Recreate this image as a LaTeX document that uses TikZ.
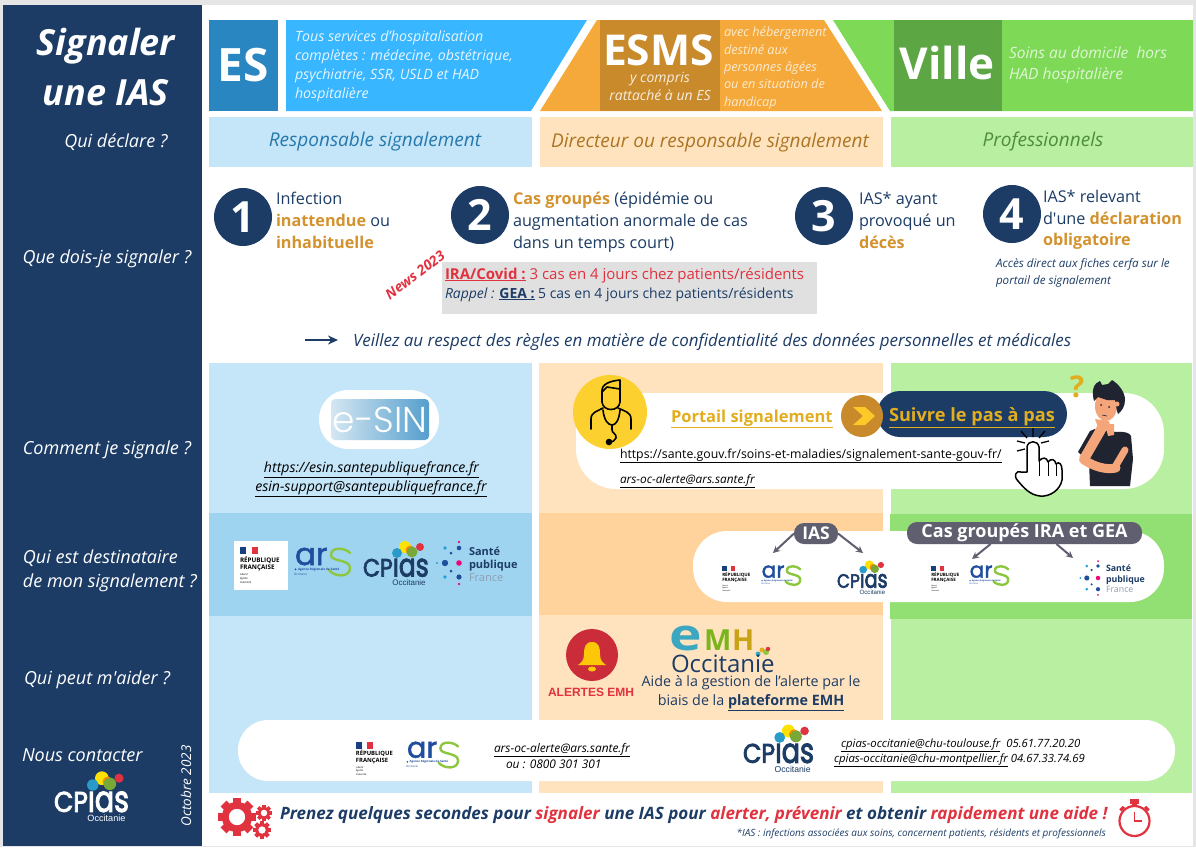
\documentclass[tikz,border=0pt]{standalone}
\usepackage{fontspec}
\setmainfont{Open Sans}
\newfontfamily\pop{Poppins}
\newfontfamily\popb[FakeBold=1.6]{Poppins}
\newfontfamily\popc[FakeBold=3]{Poppins}
\newfontfamily\popl{Poppins Light}
\newfontfamily\lib{Liberation Sans}
\usetikzlibrary{arrows.meta}
\definecolor{navy}{HTML}{1C3C66}
\definecolor{skyS}{HTML}{38B6FF}
\definecolor{skyD}{HTML}{2A86C0}
\definecolor{orS}{HTML}{F5A93B}
\definecolor{orD}{HTML}{C98A2B}
\definecolor{grS}{HTML}{7ED957}
\definecolor{grD}{HTML}{5CA644}
\definecolor{skyL}{HTML}{C5E5F8}
\definecolor{skyM}{HTML}{9FD4F0}
\definecolor{orL}{HTML}{FFE3BF}
\definecolor{orM}{HTML}{FFD39B}
\definecolor{grL}{HTML}{B8EFA0}
\definecolor{grM}{HTML}{92DF74}
\definecolor{amber}{HTML}{D3922E}
\definecolor{redA}{HTML}{E0323F}
\definecolor{gold}{HTML}{E2AE1F}
\definecolor{sun}{HTML}{FCD12F}
\definecolor{tagc}{HTML}{5F5F70}
\definecolor{arsb}{HTML}{1F4E9E}
\definecolor{arsg}{HTML}{8DC63F}
\definecolor{skin}{HTML}{F4A67A}
\definecolor{dark}{HTML}{1F2430}
\definecolor{emhe}{HTML}{3BA7C0}
\definecolor{emhm}{HTML}{7AB51D}
\definecolor{emhh}{HTML}{C8A415}
\newcommand{\fs}[1]{\fontsize{#1}{#1}\selectfont}
\newcommand{\apo}{{\addfontfeature{Ligatures=TeXOff}\char39 }}
\tikzset{
  tl/.style={inner sep=0pt,outer sep=0pt,anchor=base west},
  tc/.style={inner sep=0pt,outer sep=0pt,anchor=base},
  tr/.style={inner sep=0pt,outer sep=0pt,anchor=base east},
  numdisc/.style={circle,fill=navy,text=white,minimum size=58pt,inner sep=0pt,font=\fs{43}\bfseries},
  tile/.style={inner sep=0pt,outer sep=0pt,text=white,font=\bfseries},
  tagbox/.style={rounded corners=10pt,fill=tagc,text=white,inner sep=0pt,outer sep=0pt,font=\bfseries},
  tagarrow/.style={draw=tagc,line width=2pt,-{Stealth[length=7pt,width=7pt]}},
  logoscale/.style={every node/.append style={transform shape}}
}
\newcommand{\logoRF}[4]{\begin{scope}[shift={(#2,#3)},scale=#4,logoscale]
  \fill[arsb!80!black] (6,6) rectangle (12,13);
  \fill[redA] (18,6) rectangle (24,13);
  \node[tl] (#1a) at (6,21) {\fs{6.3}\bfseries RÉPUBLIQUE};
  \node[tl] (#1b) at (6,28) {\fs{6.3}\bfseries FRANÇAISE};
  \node[tl] (#1c) at (6,34) {\fs{2.6}\itshape Liberté};
  \node[tl] (#1d) at (6,38) {\fs{2.6}\itshape Égalité};
  \node[tl] (#1e) at (6,42) {\fs{2.6}\itshape Fraternité};
\end{scope}}
\newcommand{\logoARS}[4]{\begin{scope}[shift={(#2,#3)},scale=#4,logoscale]
  \draw[arsg,line width=2.4pt,line cap=round] (56,6) .. controls (52,1) and (37,-1) .. (37,8) .. controls (37,15) and (56,12) .. (56,21) .. controls (56,31) and (40,30) .. (35,23);
  \node[tl,text=arsb] (#1a) at (1,18) {\fs{31}\popb ar};
  \fill[arsb] (1.5,22.4) circle (1);
  \node[tl,text=arsb] (#1b) at (4,23.5) {\fs{3.1}\bfseries Agence Régionale de Santé};
  \node[tl,text=arsb] (#1c) at (0,28) {\fs{3}Occitanie};
\end{scope}}
\newcommand{\logoCP}[5]{\begin{scope}[shift={(#2,#3)},scale=#4,logoscale]
  \node[tl,text=#5] (#1a) at (0,16.5) {\popc\scalebox{.88}[1]{\fs{25}CP}\scalebox{.78}[1]{\fs{32}ias}};
  \fill[yellow!85!orange] (42,-13) circle (6);
  \fill[orange!90!yellow] (47,-10) circle (4.5);
  \fill[arsg!85!black] (49,-8) circle (5.5);
  \fill[cyan!60!teal] (34,-7) circle (5);
  \fill[redA] (57,-13) circle (4);
  \node[tc,text=#5] (#1b) at (46,25) {\fs{8}\lib Occitanie};
\end{scope}}
\newcommand{\logoSP}[4]{\begin{scope}[shift={(#2,#3)},scale=#4,logoscale]
  \foreach \px/\py/\pr/\pc in {0/-21/1.3/magenta!70!purple,0/-15/2.3/arsb,0/0/2.8/magenta!80!red,0/14/2.6/arsb,0/21/1.3/magenta!70!purple,-14/-15/1.8/cyan!70!teal,-8/-10/1.5/arsb,-14/0/3.2/arsb,-22/0/1.2/cyan!70!teal,-8/8/1.5/arsb,-14/14/1.8/cyan!70!teal}{\fill[\pc] (\px,\py) circle (\pr);}
  \node[tl,text=navy] (#1a) at (10,-8) {\fs{11}\bfseries Santé};
  \node[tl,text=navy] (#1b) at (10,5) {\fs{11}\bfseries publique};
  \node[tl,text=navy!50] (#1c) at (10,18) {\fs{11}France};
\end{scope}}
\newcommand{\gearshape}[3]{%
  \foreach \a in {0,45,...,315}{\fill[redA,rotate around={\a:(#1,#2)}] ({#1-0.22*#3},{#2-#3}) rectangle ({#1+0.22*#3},{#2-0.7*#3});}
  \draw[redA,line width=0.36*#3 pt] (#1,#2) circle ({0.62*#3});}
\begin{document}
\begin{tikzpicture}[x=1pt,y=-1pt]
\useasboundingbox (0,0) rectangle (1196,847);
% page
\fill[black!10] (0,0) rectangle (1196,847);
\fill[white] (3,5) rectangle (1193,846);
\fill[navy] (3,5) rectangle (202,846);
% header tiles
\fill[skyS] (286,20) -- (587,20) -- (531,111) -- (286,111) -- cycle;
\fill[orS] (540,111) -- (597,20) -- (824,20) -- (882,111) -- cycle;
\fill[grS] (833,20) -- (1193,20) -- (1193,111) -- (890,111) -- cycle;
\node[tile,fill=skyD,minimum width=69pt,minimum height=91pt,font=\fs{46}\bfseries] (tES) at (243.5,65.5) {ES};
\fill[orD] (600,20) rectangle (720,111);
\fill[grD] (894,20) rectangle (1002,111);
\node[tc,tile,font=\fs{42.5}\bfseries] (tESMS) at (658.5,65) {ESMS};
\node[tile,tc,font=\fs{44}\bfseries] (tVille) at (947,79) {Ville};
\foreach \n/\y/\t in {a/41/Tous services d'hospitalisation,b/60/{complètes : médecine, obstétrique,},c/79/{psychiatrie, SSR, USLD et HAD},d/98/hospitalière}
  \node[tl,text=white!88!skyS] (es\n) at (295,\y) {\fs{14.2}\itshape \t};
\node[tc,text=white!85!orD] (esmsa) at (660,82) {\fs{14}\itshape y compris};
\node[tc,text=white!85!orD] (esmsb) at (660,100) {\fs{14}\itshape rattaché à un ES};
\foreach \n/\y/\t in {a/36/avec hébergement,b/54/destiné aux,c/71/personnes âgées,d/88/ou en situation de,e/106/handicap}
  \node[tl,text=white!75!orS] (esmd\n) at (724,\y) {\fs{12.7}\itshape \t};
\node[tl,text=white!75!grS] (villea) at (1009,58) {\fs{15.5}\itshape Soins au domicile\ \ hors};
\node[tl,text=white!75!grS] (villeb) at (1009,79) {\fs{15.5}\itshape HAD hospitalière};
% column bands
\fill[skyL] (209,117) rectangle (532,167);
\fill[orL] (540,117) rectangle (883,167);
\fill[grL] (891,117) rectangle (1193,167);
\fill[skyL] (209,363) rectangle (532,793);
\fill[orL] (539,363) rectangle (883,793);
\fill[grL] (891,363) rectangle (1192,793);
\fill[skyM] (209,513) rectangle (532,616);
\fill[orM] (539,513) rectangle (883,615);
\fill[grM] (890,514) rectangle (1192,619);
\node[tc,text=skyD!90!black] (ha) at (375,146) {\fs{19}\itshape Responsable signalement};
\node[tc,text=orD!85!black] (hb) at (710,147) {\fs{19}\itshape Directeur ou responsable signalement};
\node[tc,text=grD!85!black] (hc) at (1043,146) {\fs{19}\itshape Professionnels};
% left column
\node[tc,text=white] (ti1) at (106,55) {\fs{36}\bfseries\itshape Signaler};
\node[tc,text=white] (ti2) at (106,105) {\fs{36}\bfseries\itshape une IAS};
\node[tc,text=white] (q1) at (116,147) {\fs{18}\itshape Qui déclare ?};
\node[tc,text=white] (q2) at (107,263) {\fs{18}\itshape Que dois-je signaler ?};
\node[tc,text=white] (q3) at (107,454) {\fs{18}\itshape Comment je signale ?};
\node[tl,text=white] (q4a) at (23,563) {\fs{18}\itshape Qui est destinataire};
\node[tl,text=white] (q4b) at (23,587) {\fs{18}\itshape de mon signalement ?};
\node[tl,text=white] (q5) at (24,684) {\fs{18}\itshape Qui peut m\apo aider ?};
\node[tl,text=white] (q6) at (22,761) {\fs{18}\itshape Nous contacter};
\node[inner sep=0pt,text=white,rotate=90] (oct) at (186,786) {\fs{13.5}\itshape Octobre 2023};
\logoCP{cpf}{54}{793}{1.14}{white}
% numbered items
\node[numdisc] (n1) at (243,217) {1};
\node[numdisc] (n2) at (480,215) {2};
\node[numdisc] (n3) at (824,216) {3};
\node[numdisc] (n4) at (1012,214) {4};
\foreach \n/\x/\y/\t in {
 i1a/276/204/{Infection},
 i1b/276/226/{\textbf{\textcolor{amber}{inattendue}} ou},
 i1c/276/248/{\textbf{\textcolor{amber}{inhabituelle}}},
 i2a/513/204/{\textbf{\textcolor{amber}{Cas groupés}} (épidémie ou},
 i2b/513/226/{augmentation anormale de cas},
 i2c/513/248/{dans un temps court)},
 i3a/859/204/{IAS* ayant},
 i3b/859/226/{provoqué un},
 i3c/859/248/{\textbf{\textcolor{amber}{décès}}},
 i4a/1043/202/{IAS* relevant},
 i4b/1043/224/{d\apo une \textbf{\textcolor{amber}{déclaration}}},
 i4c/1043/245/{\textbf{\textcolor{amber}{obligatoire}}}}
  \node[tl,text=navy] (\n) at (\x,\y) {\fs{16.2}\t};
\node[tl,text=navy] (i4d) at (996,267) {\fs{11.6}\itshape Accès direct aux fiches cerfa sur le};
\node[tl,text=navy] (i4e) at (996,284) {\fs{11.6}\itshape portail de signalement};
\fill[black!12] (442,262) rectangle (817,314);
\node[tl,text=redA] (ira) at (445,279) {\fs{15}\textbf{\underline{IRA/Covid :}} 3 cas en 4 jours chez patients/résidents};
\node[tl,text=navy] (gea) at (445,298) {\fs{13.95}\textit{Rappel :} \textbf{\underline{GEA :}} 5 cas en 4 jours chez patients/résidents};
\node[inner sep=0pt,text=redA,rotate=37] (news) at (415,275) {\fs{14}\bfseries\itshape News 2023};
\coordinate (arS) at (305,340);
\coordinate (arE) at (338,340);
\draw[navy,line width=2pt,-{Stealth[length=10pt,width=9pt]}] (arS) -- (arE);
\node[tl,text=navy] (veil) at (353,346) {\fs{16.94}\itshape Veillez au respect des règles en matière de confidentialité des données personnelles et médicales};
% e-SIN
\fill[white,rounded corners=29pt] (319,390) rectangle (439,449);
\shade[left color=white!80!skyD,right color=skyD!80!white,rounded corners=4pt] (331,399) rectangle (429,440);
\node[text=white,inner sep=0pt] (esin) at (380,420) {\fs{36}\popl e-SIN};
\node[tc,text=black] (esu) at (371.5,472) {\fs{14.1}\itshape\underline{https://esin.santepubliquefrance.fr}};
\node[tc,text=black] (esm) at (371,491) {\fs{14.1}\itshape\underline{esin-support@santepubliquefrance.fr}};
% portal pill
\fill[white,rounded corners=40pt] (576,393) rectangle (1164,489);
\fill[sun] (610,412) circle (37);
\begin{scope}[black,line width=1.6pt,line cap=round,line join=round]
  \draw (602,392) .. controls (601,384) and (610,381) .. (620,380) -- (620,389) -- (607,387) -- (602,392) -- (602,402) .. controls (603,412) and (619,412) .. (620,402) -- (620,389);
  \draw (591,429) -- (591,419) .. controls (591,412) and (598,411) .. (603,408);
  \draw (631,429) -- (631,419) .. controls (631,412) and (624,411) .. (618,408);
  \draw (603,410) .. controls (604,420) and (608,425) .. (612,425) .. controls (616,425) and (619,420) .. (620,410);
  \draw (612,425) -- (612,430) .. controls (612,433) and (617,434) .. (616,438) .. controls (615,441) and (612,442) .. (610,442);
  \fill (609,442) circle (3.3);
\end{scope}
\node[tl,text=gold] (port) at (671,422) {\fs{16.5}\bfseries\underline{Portail signalement}};
\node[fill=navy,rounded corners=23pt,minimum width=190pt,minimum height=46pt,inner sep=0pt] (suiv) at (972,414) {};
\fill[orD] (862,416) circle (21);
\fill[sun!90!orange] (853,407) -- (865,407) -- (875,416) -- (865,425) -- (853,425) -- (863,416) -- cycle;
\node[tl,text=gold] (suivt) at (889,421) {\fs{18.2}\bfseries\underline{Suivre le pas à pas}};
\node[tl,text=black] (ps) at (620,458) {\fs{12.3}\underline{https://sante.gouv.fr/soins-et-maladies/signalement-sante-gouv-fr/}};
\node[tl,text=black] (pm) at (620,483) {\fs{11.8}\itshape\underline{ars-oc-alerte@ars.sante.fr}};
% hand
\draw[black,fill=white,line width=1.5pt,line join=round] (1027,472) -- (1027,447) .. controls (1028,440) and (1038,440) .. (1039,447) -- (1039,461) .. controls (1042,457) and (1047,457) .. (1048,462) .. controls (1051,458) and (1055,459) .. (1056,464) .. controls (1059,461) and (1062,464) .. (1062,470) -- (1062,480) .. controls (1060,490) and (1050,497) .. (1040,496) .. controls (1030,495) and (1024,488) .. (1018,481) .. controls (1013,476) and (1016,470) .. (1021,472) -- cycle;
\draw[black,line width=.8pt] (1039,461) -- (1039,476) (1048,462) -- (1048,476) (1056,464) -- (1056,476);
\draw[black,line width=1.3pt] (1033,437) -- (1033,428) (1027,438) -- (1021,431) (1039,438) -- (1045,431) (1025,443) -- (1017,441) (1041,443) -- (1049,441) (1025,449) -- (1017,451);
% person
\node[text=gold,inner sep=0pt] (qm) at (1077,387) {\fs{30}\bfseries ?};
\fill[dark] (1090,431) .. controls (1096,428) and (1100,428) .. (1104,430) -- (1116,432) .. controls (1124,431) and (1130,433) .. (1131,436) -- (1133,459) -- (1130,486) -- (1090,486) -- (1089,462) -- (1078,452) -- cycle;
\fill[skin] (1105,424) -- (1114,424) -- (1114,435) -- (1108,436) -- cycle;
\fill[skin] (1106,406) ellipse (11 and 15);
\fill[dark] (1094,401) .. controls (1091,390) and (1094,383) .. (1100,381) -- (1102,385) -- (1108,384) -- (1112,380) .. controls (1120,385) and (1125,393) .. (1125,400) .. controls (1125,406) and (1122,411) .. (1118,414) .. controls (1116,409) and (1116,404) .. (1115,400) -- (1107,400) -- (1098,397) -- cycle;
\fill[skin] (1117,404) circle (2.5);
\fill[dark] (1101,405) circle (1) (1109,407) circle (1);
\draw[dark,line width=.6pt] (1102,415) -- (1107,416);
\draw[skin,line width=10pt,line cap=round] (1084,459) -- (1103,426);
\fill[skin] (1095,419) -- (1109,421) -- (1111,429) -- (1100,433) -- cycle;
\draw[skin,line width=9pt,line cap=round] (1084,460) .. controls (1095,467) and (1106,470) .. (1116,468);
\draw[skin,line width=7pt,line cap=round] (1115,467) -- (1125,450);
% destinataire pill
\fill[white,rounded corners=34pt] (693,531) rectangle (1164,602);
\node[tagbox,minimum width=44pt,minimum height=21pt,font=\fs{17.5}\bfseries] (tagIAS) at (816,533.5) {IAS};
\node[tagbox,minimum width=235pt,minimum height=22pt,font=\fs{18}\bfseries] (tagCas) at (1024.5,533) {Cas groupés IRA et GEA};
\coordinate (aA) at (773,553);
\coordinate (aB) at (863,553);
\coordinate (aC) at (972,559);
\coordinate (aD) at (1073,558);
\draw[tagarrow] (tagIAS.west) -- (aA);
\draw[tagarrow] (tagIAS.east) -- (aB);
\draw[tagarrow] (tagCas.198) -- (aC);
\draw[tagarrow] (tagCas.341) -- (aD);
% logos row
\fill[white] (234,541) rectangle (288,590);
\logoRF{rfa}{234}{541}{1}
\logoARS{arsa}{294}{547}{1}
\logoCP{cpa}{363}{560}{1}{navy}
\logoSP{spa}{459}{563}{1}
\logoRF{rfb}{718}{562}{.71}
\logoARS{arsb}{761}{565}{.7}
\logoCP{cpb}{837}{575}{.77}{navy}
\logoRF{rfc}{927}{562}{.71}
\logoARS{arsc}{969}{565}{.7}
\logoSP{spb}{1098}{578}{.8}
% alertes
\fill[redA!90!black] (592,655) circle (26);
\fill[yellow!60!orange] (592,642) .. controls (599,642) and (600,648) .. (600,654) .. controls (600,660) and (602,662) .. (606,665) -- (578,665) .. controls (582,662) and (584,660) .. (584,654) .. controls (584,648) and (585,642) .. (592,642) -- cycle;
\fill[yellow!60!orange] (592,669) ellipse (4 and 2.5);
\node[tc,text=redA] (alert) at (591,696) {\fs{12}\lib\bfseries ALERTES EMH};
\node[tl,text=emhe] (emhE) at (669,650) {\scalebox{1.25}[1]{\fs{44}\bfseries e}};
\node[tl,text=emhm] (emhM) at (704,650) {\fs{29}\bfseries M};
\node[tl,text=emhh] (emhH) at (732,650) {\fs{29}\bfseries H};
\fill[emhe] (758,654) circle (2.5);
\fill[gold] (762,650) circle (2.5);
\fill[arsg] (766,652) circle (3);
\fill[redA] (768,649) circle (2.2);
\node[tl,text=navy] (occ) at (671,672) {\fs{24}Occitanie};
\node[tc,text=navy] (aid1) at (751,686) {\fs{14.3}Aide à la gestion de l’alerte par le};
\node[tc,text=navy] (aid2) at (751,705) {\fs{14.3}biais de la \textbf{\underline{plateforme EMH}}};
% contact pill
\fill[white,rounded corners=30pt] (238,720) rectangle (1175,781);
\logoRF{rfd}{350.4}{736.4}{.93}
\logoARS{arsd}{406}{741}{.93}
\logoCP{cpd}{743}{745}{1.08}{navy}
\node[tl,text=black] (c1) at (494,752) {\fs{11.9}\itshape\underline{ars-oc-alerte@ars.sante.fr}};
\node[tl,text=black] (c2) at (506,768) {\fs{11.9}\itshape ou : 0800 301 301};
\node[tl,text=black] (c3) at (841,747) {\fs{11.35}\itshape\underline{cpias-occitanie@chu-toulouse.fr} \ 05.61.77.20.20};
\node[tl,text=black] (c4) at (834,762) {\fs{11.35}\itshape\underline{cpias-occitanie@chu-montpellier.fr} 04.67.33.74.69};
% footer
\gearshape{237}{817}{19}
\gearshape{264}{813}{8}
\gearshape{262}{830}{9}
\node[tl,text=navy] (foot) at (280,819) {\fs{17.03}\bfseries\itshape Prenez quelques secondes pour \textcolor{redA}{signaler} une IAS pour \textcolor{redA}{alerter, prévenir} et obtenir \textcolor{redA}{rapidement une aide !}};
\node[tr,text=navy] (fnote) at (1106,836) {\fs{9.95}\itshape *IAS : infections associées aux soins, concernent patients, résidents et professionnels};
\draw[redA,line width=2.2pt] (1134.5,821) circle (15);
\fill[redA] (1130,799) rectangle (1139,804);
\fill[redA] (1132,803) rectangle (1137,807);
\fill[redA,rotate around={45:(1134.5,821)}] (1132,802) rectangle (1137,805);
\fill[redA,rotate around={-45:(1134.5,821)}] (1132,802) rectangle (1137,805);
\draw[redA,line width=1.2pt] (1134.5,812) -- (1134.5,821) -- (1142,821);
\end{tikzpicture}
\end{document}
